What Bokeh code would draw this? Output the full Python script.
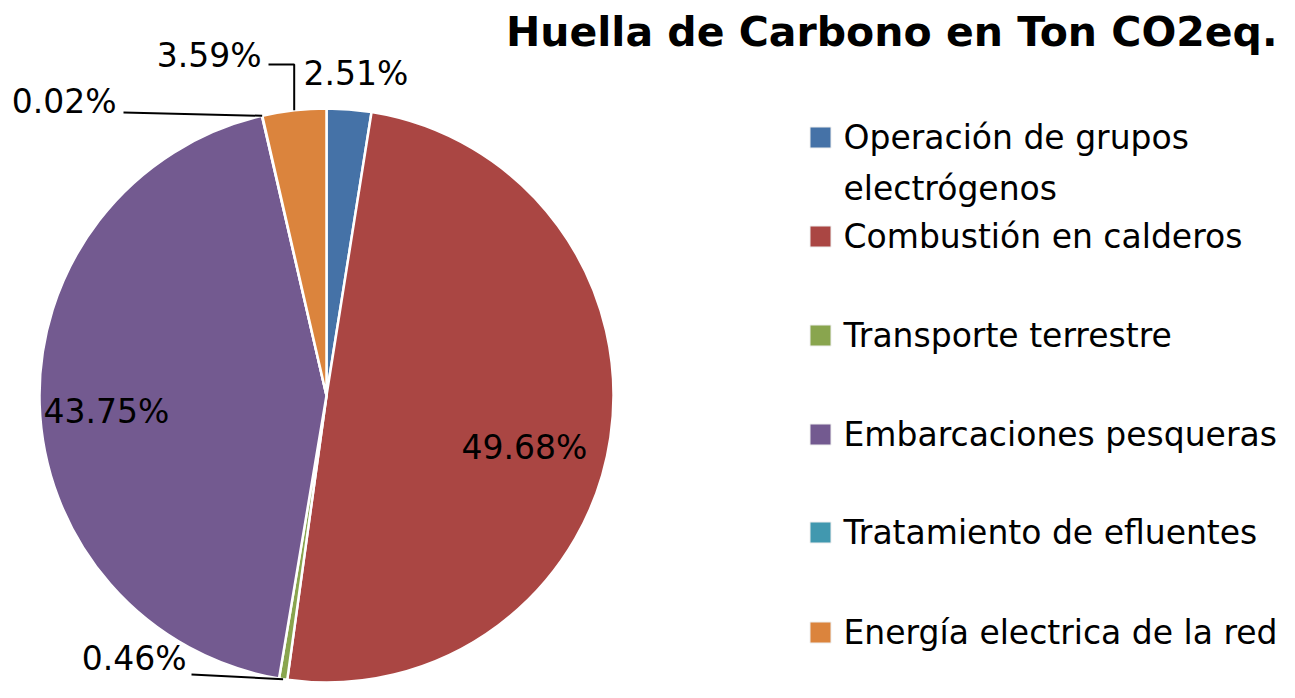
import numpy as np
from bokeh.plotting import figure
from bokeh.models import Range1d, Label
from bokeh.core.properties import value
from bokeh.embed import file_html
from bokeh.resources import INLINE

# ---- data ----
categories = ["Operación de grupos\nelectrógenos", "Combustión en calderos",
              "Transporte terrestre", "Embarcaciones pesqueras",
              "Tratamiento de efluentes", "Energía electrica de la red"]
percentages = [2.51, 49.68, 0.46, 43.75, 0.02, 3.59]
colors = ["#4572A7", "#AA4643", "#89A54E", "#735A90", "#4198AF", "#DB843D"]
title_text = "Huella de Carbono en Ton CO2eq."

# ---- layout (picture pixel coordinates; data y = H - picture y) ----
W, H = 1279, 682
def Y(py):
    return H - py

CX, CY, R = 326, 395, 287
FONT = "DejaVu Sans"
FS = 33
SHIFT = 0.375  # baseline correction (fraction of font size)

p = figure(width=W, height=H, output_backend="svg", toolbar_location=None,
           x_range=Range1d(0, W), y_range=Range1d(0, H),
           min_border=0, outline_line_color=None)
p.axis.visible = False
p.grid.visible = False

vals = np.array(percentages, dtype=float)
frac = vals / vals.sum()
cum = np.concatenate([[0], np.cumsum(frac)])
start = np.pi / 2 - cum[:-1] * 2 * np.pi
end = np.pi / 2 - cum[1:] * 2 * np.pi
mid = (start + end) / 2

p.wedge(x=[CX] * len(vals), y=[Y(CY)] * len(vals), radius=R,
        start_angle=start, end_angle=end, direction="clock",
        fill_color=colors, line_color="white", line_width=2.5)

labels = [f"{v:.2f}%" for v in percentages]

def txt(x, y, s, align, size=FS):
    p.text(x=[x], y=[Y(y - SHIFT * size)], text=[s], text_font=value(FONT),
           text_font_size=f"{size}px", text_align=align,
           text_baseline="alphabetic", text_color="#000000")

# inside labels
txt(524, 459, labels[1], "center")
txt(106, 423, labels[3], "center")

# outside labels with leaders
ax = CX + R * np.cos(mid)
ay = Y(CY) + R * np.sin(mid)

txt(303, 85, labels[0], "left")
txt(116, 113, labels[4], "right")
p.line(x=[123, ax[4]], y=[Y(112), ay[4]], line_color="black", line_width=2)
txt(261, 67, labels[5], "right")
p.line(x=[268, ax[5], ax[5]], y=[Y(64), Y(64), ay[5]], line_color="black", line_width=2)
txt(186, 670, labels[2], "right")
p.line(x=[191, ax[2]], y=[Y(674), ay[2]], line_color="black", line_width=2)

# legend
rows = [137, 236, 335, 434, 532, 632]
p.rect(x=[820] * 6, y=[Y(r) for r in rows], width=21, height=21,
       fill_color=colors, line_color="#EEEEEE", line_width=1)
for i, r in enumerate(rows):
    for k, line in enumerate(categories[i].split("\n")):
        txt(843, r + 12 + 51 * k, line, "left")

# title
TFS = 41
p.add_layout(Label(x=1277, y=Y(47 - 0.375 * TFS), text=title_text, text_font=FONT,
                   text_font_size=f"{TFS}px", text_font_style="bold",
                   text_align="right", text_baseline="alphabetic", text_color="#000000"))

open("out.html", "w").write(file_html(p, INLINE))
